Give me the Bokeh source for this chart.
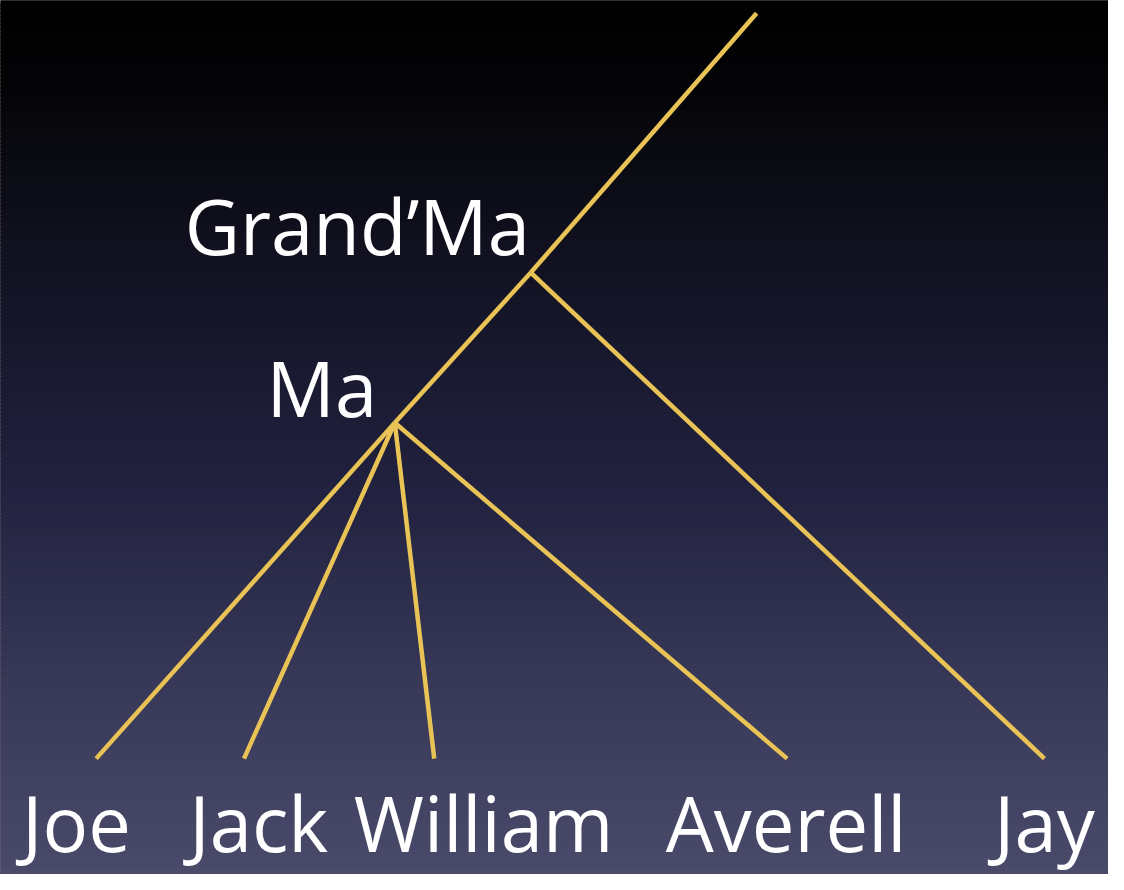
from bokeh.plotting import figure
from bokeh.models import Range1d, ColumnDataSource
from bokeh.core.properties import value
from bokeh.embed import file_html
from bokeh.resources import INLINE

# ---- data: tree nodes (display coordinates), parents, labels ----
node_names = ["Joe", "Jack", "William", "Averell", "Jay", "Ma", "Grand’Ma", "root"]
node_x = [97, 247, 440, 798, 1059, 400, 538, 767]
node_y = [772, 772, 772, 772, 772, 430, 277, 13]
node_parent = ["Ma", "Ma", "Ma", "Ma", "Grand’Ma", "Grand’Ma", "root", None]

label_text = ["Joe", "Jack", "William", "Averell", "Jay", "Ma", "Grand’Ma"]
label_x = [77, 262, 490, 797, 1059, 326, 362]
label_y = [837, 837, 837, 837, 837, 394, 229]   # vertical centre of labels

# background gradient stops (fraction of height, rgb)
grad_pos = [0.0, 0.10, 0.33, 0.56, 0.78, 1.0]
grad_rgb = [(0, 0, 0), (5, 5, 8), (20, 20, 38), (34, 34, 64), (56, 56, 88), (74, 74, 106)]

W, H = 1108, 874

p = figure(width=W, height=H, output_backend="svg", toolbar_location=None,
           x_range=Range1d(0, 1124), y_range=Range1d(890, 0),
           min_border=0)
p.axis.visible = False
p.grid.visible = False
p.outline_line_color = None
p.background_fill_color = "#000000"
p.border_fill_color = "#000000"

# gradient background as overlapping thin bands
def interp(t):
    for i in range(len(grad_pos) - 1):
        if grad_pos[i] <= t <= grad_pos[i + 1]:
            f = (t - grad_pos[i]) / (grad_pos[i + 1] - grad_pos[i])
            c0, c1 = grad_rgb[i], grad_rgb[i + 1]
            return "#%02x%02x%02x" % tuple(int(round(a + (b - a) * f)) for a, b in zip(c0, c1))
    return "#%02x%02x%02x" % grad_rgb[-1]

step = 4
tops, bots, cols = [], [], []
y = 0
while y < 890:
    tops.append(y)
    bots.append(y + step + 2)
    cols.append(interp((y + step / 2) / 890))
    y += step
p.quad(left=-5, right=1130, top=tops, bottom=bots, fill_color=cols,
       line_color=cols, line_width=1)

# edges
idx = {n: i for i, n in enumerate(node_names)}
x0s, y0s, x1s, y1s = [], [], [], []
for i, par in enumerate(node_parent):
    if par is None:
        continue
    j = idx[par]
    x0s.append(node_x[i]); y0s.append(node_y[i])
    x1s.append(node_x[j]); y1s.append(node_y[j])
p.segment(x0=x0s, y0=y0s, x1=x1s, y1=y1s, line_color="#e9c355", line_width=4.5)

# labels
src = ColumnDataSource(dict(x=label_x, y=label_y, t=label_text))
p.text(x="x", y="y", text="t", source=src, text_color="white",
       text_font=value("Open Sans"), text_font_size="76px",
       text_align="center", text_baseline="middle")

open("out.html", "w").write(file_html(p, INLINE))
